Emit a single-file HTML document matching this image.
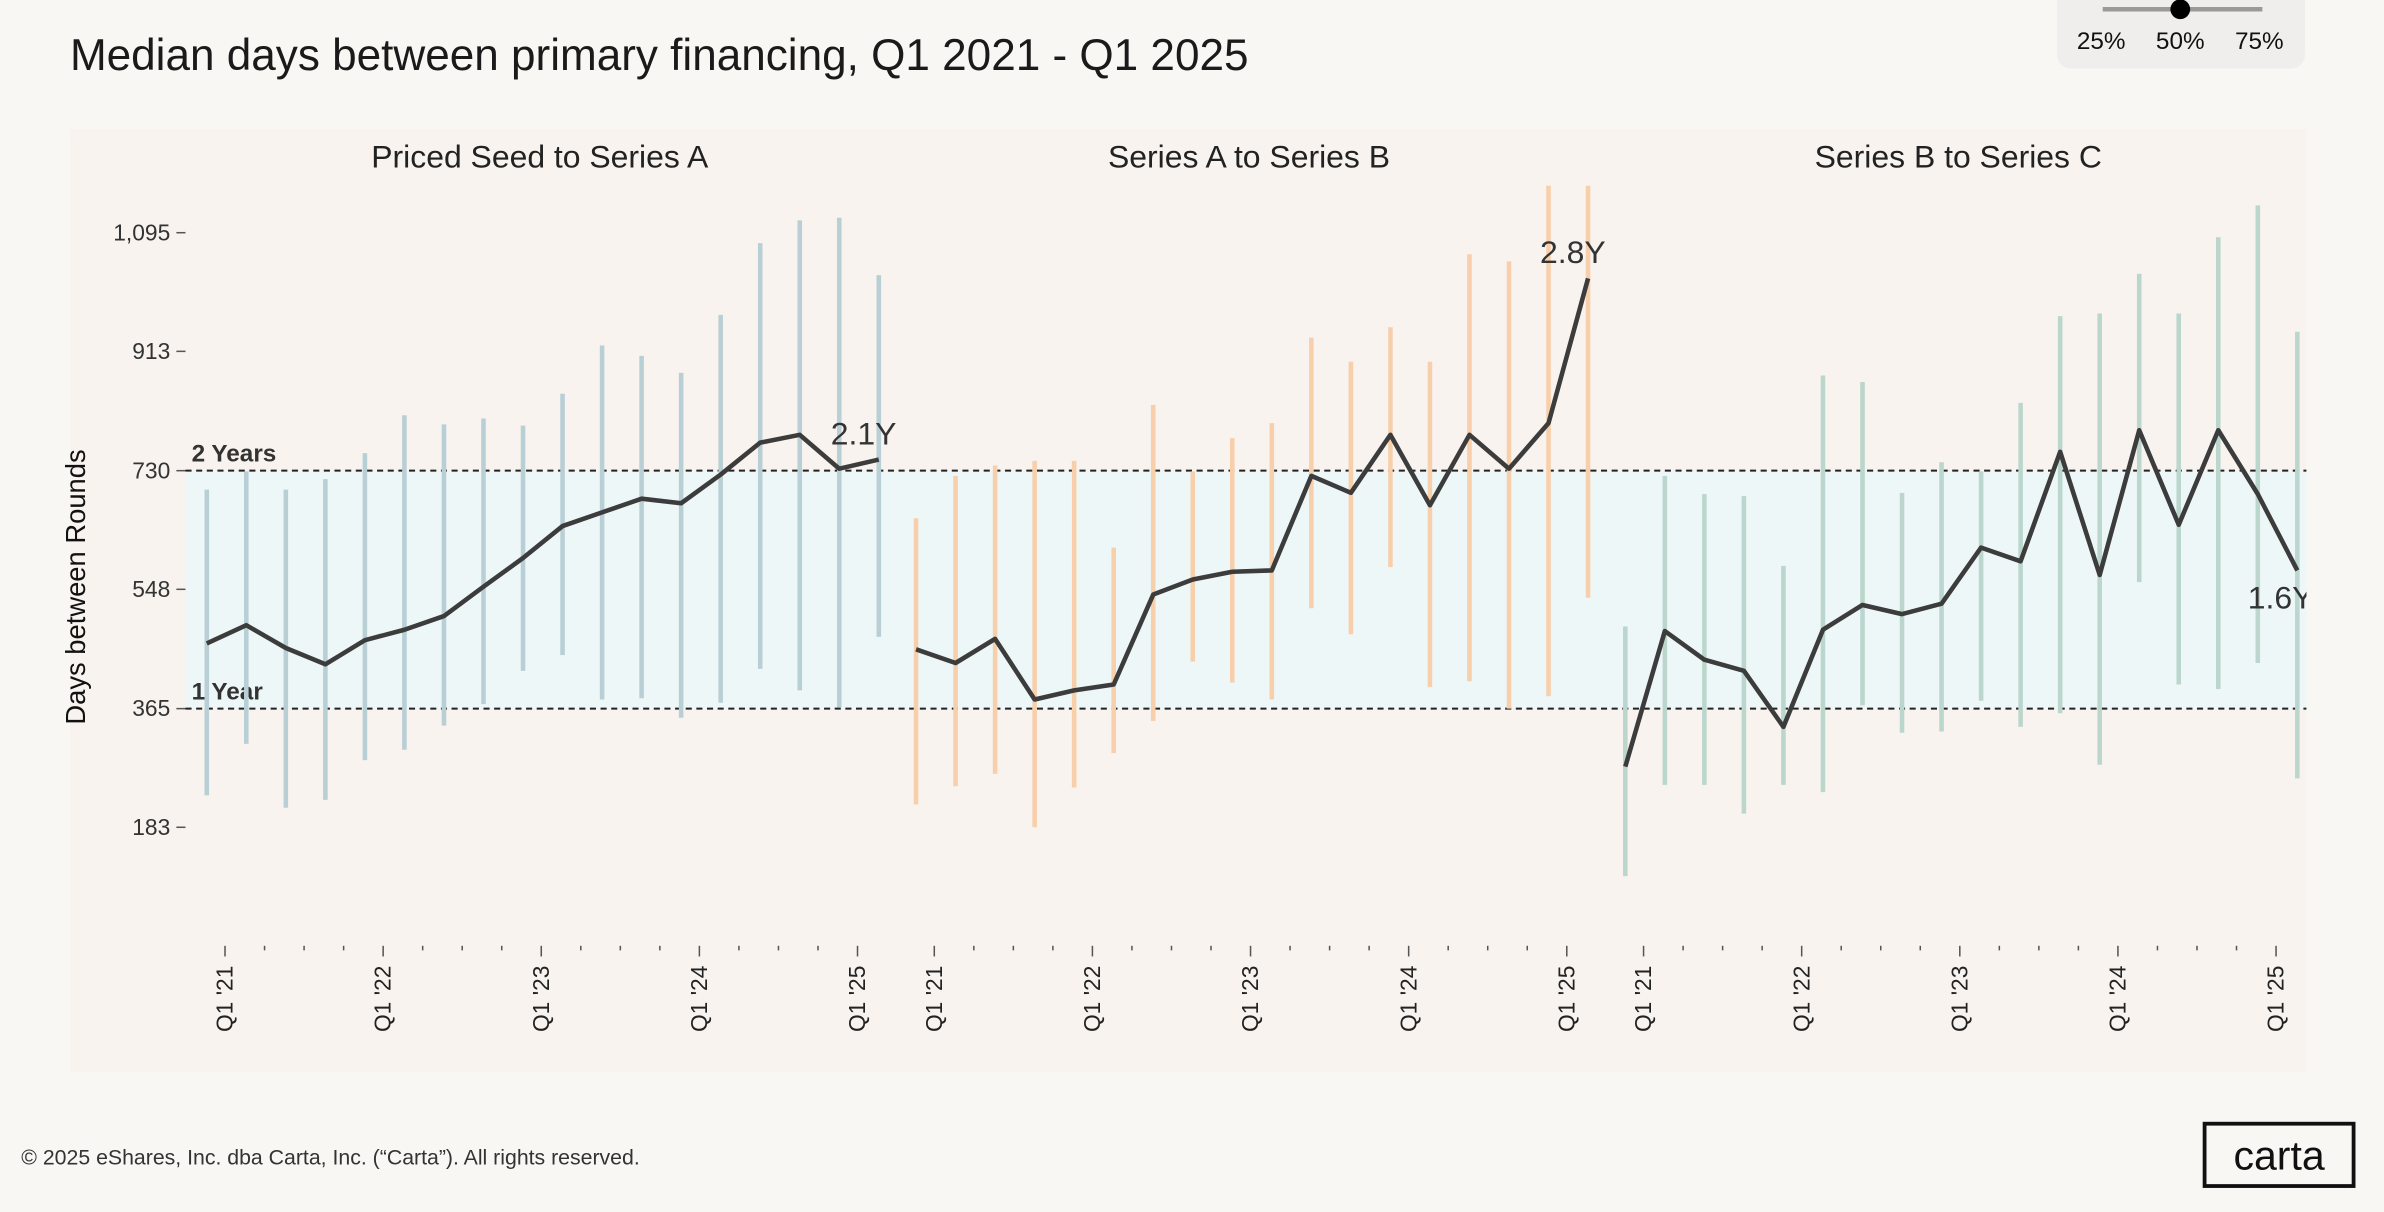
<!DOCTYPE html>
<html><head><meta charset="utf-8"><style>
html,body{margin:0;padding:0;background:#f9f7f3;}
svg{display:block;font-family:"Liberation Sans",sans-serif;}
</style></head><body>
<svg id="chart" width="2384" height="1212" viewBox="0 0 1568 797">
<defs><clipPath id="plotclip"><rect x="0" y="0" width="1517" height="797"/></clipPath></defs>
<rect x="0" y="0" width="1568" height="797" fill="#f9f7f3"/>
<text x="46" y="46" font-size="29" fill="#1a1a1a">Median days between primary financing, Q1 2021 - Q1 2025</text>
<g>
<rect x="1353" y="-12" width="163" height="57" rx="9" fill="#efeeec"/>
<line x1="1383" y1="6" x2="1488" y2="6" stroke="#999" stroke-width="3"/>
<circle cx="1434" cy="6" r="6.5" fill="#000"/>
<text x="1382" y="32" font-size="16" text-anchor="middle" fill="#111">25%</text>
<text x="1434" y="32" font-size="16" text-anchor="middle" fill="#111">50%</text>
<text x="1486" y="32" font-size="16" text-anchor="middle" fill="#111">75%</text>
</g>
<rect x="46" y="85" width="1471" height="620" fill="#f8f3ef"/>
<g id="plot" clip-path="url(#plotclip)"></g>
<text x="14" y="766" font-size="14" fill="#333">© 2025 eShares, Inc. dba Carta, Inc. (“Carta”). All rights reserved.</text>
<g>
<rect x="1450" y="739" width="98" height="41" fill="none" stroke="#111" stroke-width="2.5"/>
<text x="1499" y="769" font-size="27" text-anchor="middle" fill="#111">carta</text>
</g>
</svg>
<script>
const panelTitles = ["Priced Seed to Series A","Series A to Series B","Series B to Series C"];
const yTicks = [183,365,548,730,913,1095];
const yTickLabels = ["183","365","548","730","913","1,095"];
const xTickLabels = ["Q1 '21","Q1 '22","Q1 '23","Q1 '24","Q1 '25"];
const endLabels = ["2.1Y","2.8Y","1.6Y"];
const seedMedian = [465,493,458,433,470,486,507,552,596,645,666,687,680,724,773,785,733,747];
const seedLow = [232,311,213,225,286,302,339,372,423,447,379,381,351,374,426,393,367,475];
const seedHigh = [701,729,701,717,757,815,801,810,799,848,922,906,880,969,1079,1114,1118,1030];
const aMedian = [456,435,472,379,393,402,540,563,575,577,722,696,785,677,785,733,803,1025];
const aLow = [218,246,265,183,244,297,346,437,405,379,519,479,582,398,407,365,384,535];
const aHigh = [657,722,738,745,745,612,831,729,780,803,934,897,950,897,1062,1051,1167,1167];
const bMedian = [276,484,440,423,337,486,524,510,526,612,591,759,570,792,647,792,694,577];
const bLow = [108,248,248,204,248,237,370,328,330,377,337,358,279,559,402,395,435,258];
const bHigh = [491,722,694,691,584,876,866,696,743,729,834,967,971,1032,971,1088,1137,943];
const medians=[seedMedian,aMedian,bMedian], lows=[seedLow,aLow,bLow], highs=[seedHigh,aHigh,bHigh];
const colors=["#b9cfd6","#f7cfab","#bad6cd"];
const NS="http://www.w3.org/2000/svg";
const plot=document.getElementById('plot');
function y(v){return 466-(v-365)*0.4288;}
function x(p,i){return 136+p*466.5+i*26;}
function mk(tag,attrs,parent){const e=document.createElementNS(NS,tag);for(const k in attrs)e.setAttribute(k,attrs[k]);(parent||plot).appendChild(e);return e;}
const band=mk('rect',{x:122,y:y(730),width:1395,height:y(365)-y(730),fill:'#eef7f7'});


yTicks.forEach((v,i)=>{
  const t=mk('text',{x:112,y:y(v)+5,'font-size':15,'text-anchor':'end',fill:'#333'});t.textContent=yTickLabels[i];
  
  
  const l=mk('line',{x1:116,x2:122,y1:y(v),y2:y(v),stroke:'#555','stroke-width':1});
  
  
});
const yt=mk('text',{x:0,y:0,'font-size':18,'text-anchor':'middle',fill:'#111',transform:'translate(56,386) rotate(-90)'});yt.textContent='Days between Rounds';


[[730,'2 Years'],[365,'1 Year']].forEach(r=>{
  const l=mk('line',{x1:122,x2:1517,y1:y(r[0]),y2:y(r[0]),stroke:'#222','stroke-width':1.3,'stroke-dasharray':'4,3'});
  
  
  const t=mk('text',{x:126,y:y(r[0])-6,'font-size':16,'font-weight':'bold',fill:'#333'});t.textContent=r[1];
  
  
});
for(let p=0;p<3;p++){
  const g=mk('g',{});
  
  
  const tt=mk('text',{x:355+p*466.5,y:110,'font-size':21,'text-anchor':'middle',fill:'#222'},g);tt.textContent=panelTitles[p];
  
  
  for(let q=0;q<17;q++){
    const xx=x(p,q)+12, major=q%4===0;
    const l=mk('line',{x1:xx,x2:xx,y1:622,y2:major?629:625,stroke:'#555','stroke-width':1},g);
    
    
    if(major){
      const t=mk('text',{x:0,y:0,'font-size':15,'text-anchor':'end',fill:'#222',transform:`translate(${xx+5},635) rotate(-90)`},g);
      t.textContent=xTickLabels[q/4];
      
      
    }
  }
  medians[p].forEach((m,i)=>{
    const b=mk('line',{x1:x(p,i),x2:x(p,i),y1:y(highs[p][i]),y2:y(lows[p][i]),stroke:colors[p],'stroke-width':3},g);
    
    
  });
  const pts=medians[p].map((m,i)=>x(p,i)+','+y(m)).join(' ');
  const pl=mk('polyline',{points:pts,fill:'none',stroke:'#3c3c3c','stroke-width':3,'stroke-linejoin':'round'},g);
  
  
  const last=medians[p].length-1, lm=medians[p][last];
  const ey = p===2 ? y(lm)+25 : y(Math.max(lm, medians[p][last-1]))-10;
  const el=mk('text',{x:x(p,last)-(p===2?11:10),y:ey,'font-size':21,'text-anchor':'middle',fill:'#333'},g);
  el.textContent=endLabels[p];
  
  
}
</script>
</body></html>
